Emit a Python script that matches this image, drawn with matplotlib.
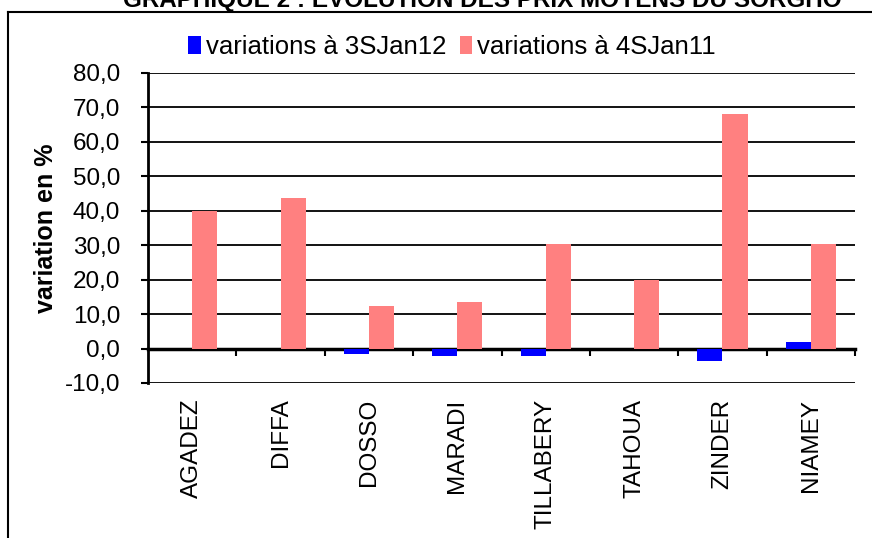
import numpy as np
import matplotlib
matplotlib.use("Agg")
import matplotlib.pyplot as plt
from matplotlib.lines import Line2D
from matplotlib.ticker import FuncFormatter, FixedLocator

plt.rcParams['font.family'] = ['Liberation Sans', 'DejaVu Sans']

# data
regions = ['AGADEZ', 'DIFFA', 'DOSSO', 'MARADI', 'TILLABERY', 'TAHOUA', 'ZINDER', 'NIAMEY']
var_3sjan12 = [0.0, 0.0, -1.7, -2.3, -2.3, 0.0, -3.6, 2.0]
var_4sjan11 = [39.8, 43.8, 12.3, 13.5, 30.5, 20.0, 68.0, 30.5]
yticks = [-10, 0, 10, 20, 30, 40, 50, 60, 70, 80]

fig = plt.figure(figsize=(8.72, 5.38), dpi=100)
ax = fig.add_axes([148/872, 1-383/538, 707/872, 310/538])

x = np.arange(len(regions))
w = 0.285
ax.bar(x - w/2, var_3sjan12, w, color='#0000FF', label='variations à 3SJan12', zorder=3)
ax.bar(x + w/2, var_4sjan11, w, color='#FF8080', label='variations à 4SJan11', zorder=3)

ax.set_xlim(-0.5, len(regions) - 0.5)
ax.set_ylim(-10, 80)
ax.set_yticks(yticks)
ax.yaxis.set_major_formatter(FuncFormatter(lambda v, p: ('%.1f' % v).replace('.', ',')))
ax.grid(axis='y', color='black', lw=1.3, zorder=1)
ax.set_axisbelow(True)

# x axis sits on zero, labels pushed below the chart
ax.spines['bottom'].set_position(('data', 0))
ax.spines['bottom'].set_linewidth(2.5)
ax.spines['left'].set_linewidth(2)
ax.spines['top'].set_visible(False)
ax.spines['right'].set_visible(False)
ax.set_xticks(x)
ax.set_xticklabels(regions, rotation=90, fontsize=17.5, va='top')
ax.xaxis.set_minor_locator(FixedLocator(np.arange(len(regions)) + 0.5))
ax.tick_params(axis='x', which='major', length=0, pad=36)
ax.tick_params(axis='x', which='minor', length=5, width=1.5, direction='out')
ax.tick_params(axis='y', labelsize=17.5, length=5, width=1.5, direction='out', pad=15)

ax.set_ylabel('variation en %', fontsize=18, fontweight='bold', labelpad=5)

ax.legend(loc='lower left', bbox_to_anchor=(0.057, 1.046), ncol=2, frameon=False,
          fontsize=18.5, handlelength=0.5, handleheight=0.7, handletextpad=0.2,
          columnspacing=0.5, borderaxespad=0, borderpad=0)

fig.text(482/872, 1 - 7/538, 'GRAPHIQUE 2 : EVOLUTION DES PRIX MOYENS DU SORGHO',
         ha='center', va='baseline', fontsize=17.5, fontweight='bold')

# outer chart frame
fig.add_artist(Line2D([8/872, 8/872], [0, 1 - 12/538], color='black', lw=1.5, transform=fig.transFigure))
fig.add_artist(Line2D([8/872, 1], [1 - 12/538, 1 - 12/538], color='black', lw=1.5, transform=fig.transFigure))

fig.savefig('out.png', dpi=100)
